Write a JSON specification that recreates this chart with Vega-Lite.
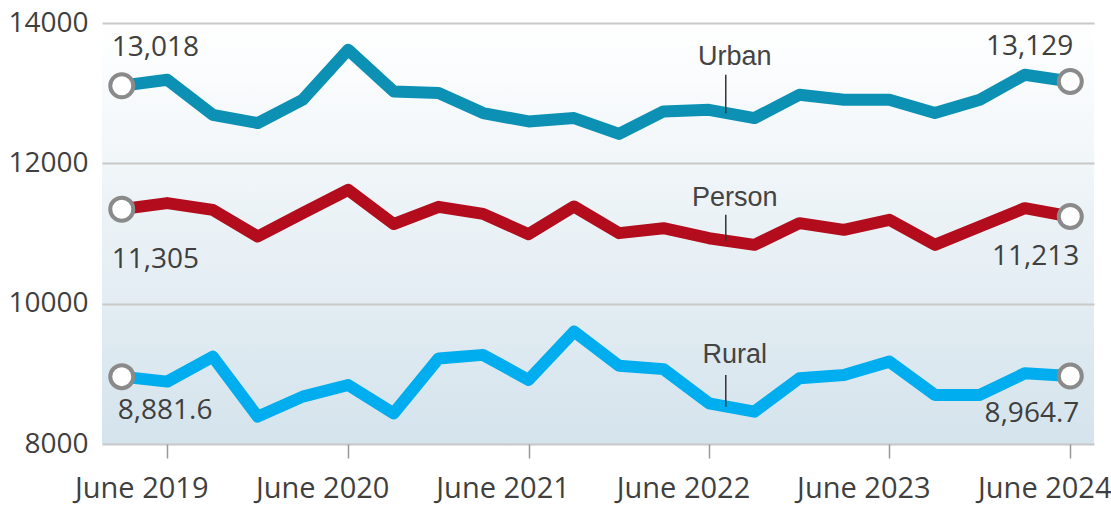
{
  "$schema": "https://vega.github.io/schema/vega-lite/v6.json",
  "width": 992,
  "height": 421,
  "autosize": {"type": "none"},
  "padding": {"left": 102, "top": 23, "right": 17, "bottom": 62},
  "background": "white",
  "config": {"view": {"stroke": null}, "font": "Open Sans"},
  "datasets": {
    "series": [
      {"series": "Urban", "date": "2019-03-01", "value": 13106},
      {"series": "Urban", "date": "2019-06-01", "value": 13191},
      {"series": "Urban", "date": "2019-09-01", "value": 12692},
      {"series": "Urban", "date": "2019-12-01", "value": 12574},
      {"series": "Urban", "date": "2020-03-01", "value": 12906},
      {"series": "Urban", "date": "2020-06-01", "value": 13619},
      {"series": "Urban", "date": "2020-09-01", "value": 13025},
      {"series": "Urban", "date": "2020-12-01", "value": 13001},
      {"series": "Urban", "date": "2021-03-01", "value": 12716},
      {"series": "Urban", "date": "2021-06-01", "value": 12597},
      {"series": "Urban", "date": "2021-09-01", "value": 12645},
      {"series": "Urban", "date": "2021-12-01", "value": 12420},
      {"series": "Urban", "date": "2022-03-01", "value": 12740},
      {"series": "Urban", "date": "2022-06-01", "value": 12763},
      {"series": "Urban", "date": "2022-09-01", "value": 12645},
      {"series": "Urban", "date": "2022-12-01", "value": 12977},
      {"series": "Urban", "date": "2023-03-01", "value": 12906},
      {"series": "Urban", "date": "2023-06-01", "value": 12906},
      {"series": "Urban", "date": "2023-09-01", "value": 12716},
      {"series": "Urban", "date": "2023-12-01", "value": 12906},
      {"series": "Urban", "date": "2024-03-01", "value": 13263},
      {"series": "Urban", "date": "2024-06-01", "value": 13167},
      {"series": "Person", "date": "2019-03-01", "value": 11347},
      {"series": "Person", "date": "2019-06-01", "value": 11433},
      {"series": "Person", "date": "2019-09-01", "value": 11337},
      {"series": "Person", "date": "2019-12-01", "value": 10957},
      {"series": "Person", "date": "2020-03-01", "value": 11290},
      {"series": "Person", "date": "2020-06-01", "value": 11622},
      {"series": "Person", "date": "2020-09-01", "value": 11135},
      {"series": "Person", "date": "2020-12-01", "value": 11380},
      {"series": "Person", "date": "2021-03-01", "value": 11280},
      {"series": "Person", "date": "2021-06-01", "value": 10990},
      {"series": "Person", "date": "2021-09-01", "value": 11385},
      {"series": "Person", "date": "2021-12-01", "value": 11005},
      {"series": "Person", "date": "2022-03-01", "value": 11076},
      {"series": "Person", "date": "2022-06-01", "value": 10933},
      {"series": "Person", "date": "2022-09-01", "value": 10838},
      {"series": "Person", "date": "2022-12-01", "value": 11147},
      {"series": "Person", "date": "2023-03-01", "value": 11052},
      {"series": "Person", "date": "2023-06-01", "value": 11195},
      {"series": "Person", "date": "2023-09-01", "value": 10838},
      {"series": "Person", "date": "2023-12-01", "value": 11100},
      {"series": "Person", "date": "2024-03-01", "value": 11361},
      {"series": "Person", "date": "2024-06-01", "value": 11242},
      {"series": "Rural", "date": "2019-03-01", "value": 8960},
      {"series": "Rural", "date": "2019-06-01", "value": 8889},
      {"series": "Rural", "date": "2019-09-01", "value": 9245},
      {"series": "Rural", "date": "2019-12-01", "value": 8390},
      {"series": "Rural", "date": "2020-03-01", "value": 8675},
      {"series": "Rural", "date": "2020-06-01", "value": 8841},
      {"series": "Rural", "date": "2020-09-01", "value": 8437},
      {"series": "Rural", "date": "2020-12-01", "value": 9220},
      {"series": "Rural", "date": "2021-03-01", "value": 9270},
      {"series": "Rural", "date": "2021-06-01", "value": 8913},
      {"series": "Rural", "date": "2021-09-01", "value": 9602},
      {"series": "Rural", "date": "2021-12-01", "value": 9115},
      {"series": "Rural", "date": "2022-03-01", "value": 9067},
      {"series": "Rural", "date": "2022-06-01", "value": 8580},
      {"series": "Rural", "date": "2022-09-01", "value": 8461},
      {"series": "Rural", "date": "2022-12-01", "value": 8937},
      {"series": "Rural", "date": "2023-03-01", "value": 8984},
      {"series": "Rural", "date": "2023-06-01", "value": 9174},
      {"series": "Rural", "date": "2023-09-01", "value": 8699},
      {"series": "Rural", "date": "2023-12-01", "value": 8699},
      {"series": "Rural", "date": "2024-03-01", "value": 9008},
      {"series": "Rural", "date": "2024-06-01", "value": 8970}
    ],
    "ends": [
      {"series": "Urban", "side": "left", "date": "2019-03-01", "value": 13106, "label": "13,018"},
      {"series": "Urban", "side": "right", "date": "2024-06-01", "value": 13167, "label": "13,129"},
      {"series": "Person", "side": "left", "date": "2019-03-01", "value": 11347, "label": "11,305"},
      {"series": "Person", "side": "right", "date": "2024-06-01", "value": 11242, "label": "11,213"},
      {"series": "Rural", "side": "left", "date": "2019-03-01", "value": 8960, "label": "8,881.6"},
      {"series": "Rural", "side": "right", "date": "2024-06-01", "value": 8970, "label": "8,964.7"}
    ],
    "names": [
      {"series": "Urban", "top": 13263, "bottom": 12715, "labelY": 13512},
      {"series": "Person", "top": 11266, "bottom": 10894, "labelY": 11508},
      {"series": "Rural", "top": 8984, "bottom": 8531, "labelY": 9269}
    ]
  },
  "layer": [
    {
      "data": {"values": [{}]},
      "mark": {
        "type": "rect",
        "color": {
          "gradient": "linear",
          "x1": 0, "y1": 0, "x2": 0, "y2": 1,
          "stops": [
            {"offset": 0, "color": "#ffffff"},
            {"offset": 1, "color": "#d4e3ec"}
          ]
        }
      },
      "encoding": {
        "y": {"datum": 14000, "type": "quantitative", "scale": {"domain": [8000, 14000], "nice": false}},
        "y2": {"datum": 8000}
      }
    },
    {
      "data": {"name": "series"},
      "mark": {"type": "line", "strokeWidth": 12, "strokeJoin": "round"},
      "encoding": {
        "x": {
          "field": "date", "type": "temporal",
          "scale": {"type": "utc", "domain": [{"year": 2019, "month": 1, "date": 20, "utc": true}, {"year": 2024, "month": 7, "date": 19, "utc": true}]},
          "axis": {
            "title": null,
            "values": [
              {"year": 2019, "month": 6, "date": 1, "utc": true},
              {"year": 2020, "month": 6, "date": 1, "utc": true},
              {"year": 2021, "month": 6, "date": 1, "utc": true},
              {"year": 2022, "month": 6, "date": 1, "utc": true},
              {"year": 2023, "month": 6, "date": 1, "utc": true},
              {"year": 2024, "month": 6, "date": 1, "utc": true}
            ],
            "labelExpr": "'June ' + utcFormat(datum.value, '%Y')",
            "grid": false,
            "domain": false,
            "ticks": true,
            "tickSize": 14,
            "tickColor": "#999999",
            "tickWidth": 1.5,
            "labelOffset": -26,
            "labelPadding": 16,
            "labelFontSize": 29,
            "labelColor": "#3f3f3f",
            "labelFont": "Open Sans",
            "labelFlush": false,
            "labelOverlap": false,
            "zindex": 1
          }
        },
        "y": {
          "field": "value", "type": "quantitative",
          "scale": {"domain": [8000, 14000], "nice": false},
          "axis": {
            "title": null,
            "values": [8000, 10000, 12000, 14000],
            "format": "d",
            "grid": true,
            "gridColor": "#c8c8c8",
            "gridWidth": 2,
            "ticks": false,
            "domain": false,
            "labelPadding": 14,
            "labelFontSize": 28,
            "labelColor": "#3f3f3f",
            "labelFont": "Open Sans",
            "zindex": 1
          }
        },
        "color": {
          "field": "series", "type": "nominal",
          "scale": {"domain": ["Urban", "Person", "Rural"], "range": ["#0c91b5", "#b20c1d", "#00adee"]},
          "legend": null
        }
      }
    },
    {
      "data": {"name": "names"},
      "mark": {"type": "rule", "color": "#333333", "strokeWidth": 1.5},
      "encoding": {
        "x": {"datum": {"year": 2022, "month": 7, "date": 5, "utc": true}, "type": "temporal"},
        "y": {"field": "top", "type": "quantitative"},
        "y2": {"field": "bottom"}
      }
    },
    {
      "data": {"name": "names"},
      "mark": {"type": "text", "font": "Liberation Sans", "fontSize": 27, "color": "#444444", "dx": 9, "baseline": "middle"},
      "encoding": {
        "x": {"datum": {"year": 2022, "month": 7, "date": 5, "utc": true}, "type": "temporal"},
        "y": {"field": "labelY", "type": "quantitative"},
        "text": {"field": "series"}
      }
    },
    {
      "data": {"name": "ends"},
      "mark": {"type": "point", "shape": "circle", "filled": false, "fill": "white", "stroke": "#8a8a8a", "strokeWidth": 4, "size": 530, "opacity": 1},
      "encoding": {
        "x": {"field": "date", "type": "temporal"},
        "y": {"field": "value", "type": "quantitative"}
      }
    },
    {
      "data": {"name": "ends"},
      "transform": [{"filter": "datum.series == 'Urban' && datum.side == 'left'"}],
      "mark": {"type": "text", "fontSize": 28, "color": "#3f3f3f", "align": "left", "baseline": "middle", "dx": -10, "dy": -38},
      "encoding": {
        "x": {"field": "date", "type": "temporal"},
        "y": {"field": "value", "type": "quantitative"},
        "text": {"field": "label"}
      }
    },
    {
      "data": {"name": "ends"},
      "transform": [{"filter": "datum.series == 'Urban' && datum.side == 'right'"}],
      "mark": {"type": "text", "fontSize": 28, "color": "#3f3f3f", "align": "right", "baseline": "middle", "dx": 3, "dy": -34},
      "encoding": {
        "x": {"field": "date", "type": "temporal"},
        "y": {"field": "value", "type": "quantitative"},
        "text": {"field": "label"}
      }
    },
    {
      "data": {"name": "ends"},
      "transform": [{"filter": "datum.series == 'Person' && datum.side == 'left'"}],
      "mark": {"type": "text", "fontSize": 28, "color": "#3f3f3f", "align": "left", "baseline": "middle", "dx": -10, "dy": 51},
      "encoding": {
        "x": {"field": "date", "type": "temporal"},
        "y": {"field": "value", "type": "quantitative"},
        "text": {"field": "label"}
      }
    },
    {
      "data": {"name": "ends"},
      "transform": [{"filter": "datum.series == 'Person' && datum.side == 'right'"}],
      "mark": {"type": "text", "fontSize": 28, "color": "#3f3f3f", "align": "right", "baseline": "middle", "dx": 9, "dy": 40},
      "encoding": {
        "x": {"field": "date", "type": "temporal"},
        "y": {"field": "value", "type": "quantitative"},
        "text": {"field": "label"}
      }
    },
    {
      "data": {"name": "ends"},
      "transform": [{"filter": "datum.series == 'Rural' && datum.side == 'left'"}],
      "mark": {"type": "text", "fontSize": 28, "color": "#3f3f3f", "align": "left", "baseline": "middle", "dx": -4, "dy": 34},
      "encoding": {
        "x": {"field": "date", "type": "temporal"},
        "y": {"field": "value", "type": "quantitative"},
        "text": {"field": "label"}
      }
    },
    {
      "data": {"name": "ends"},
      "transform": [{"filter": "datum.series == 'Rural' && datum.side == 'right'"}],
      "mark": {"type": "text", "fontSize": 28, "color": "#3f3f3f", "align": "right", "baseline": "middle", "dx": 9, "dy": 38},
      "encoding": {
        "x": {"field": "date", "type": "temporal"},
        "y": {"field": "value", "type": "quantitative"},
        "text": {"field": "label"}
      }
    }
  ]
}
